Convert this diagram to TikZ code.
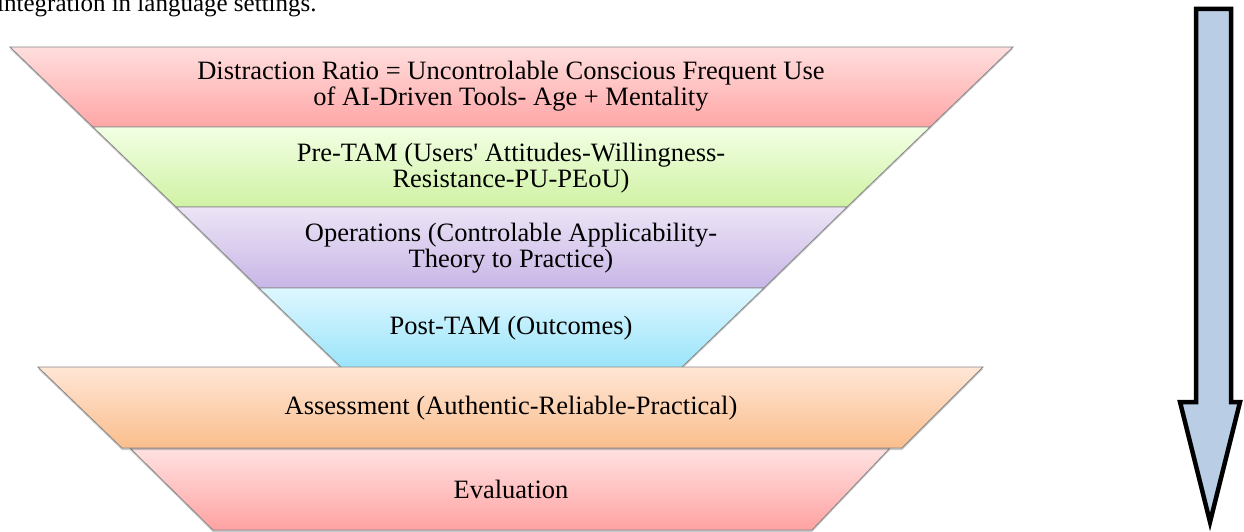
\documentclass[tikz,border=0pt]{standalone}
\usepackage{fontspec}
\setmainfont{Liberation Serif}
\usetikzlibrary{shadows}
\definecolor{pinkT}{RGB}{255,222,222}
\definecolor{pinkB}{RGB}{255,166,166}
\definecolor{greenT}{RGB}{242,255,228}
\definecolor{greenB}{RGB}{208,242,164}
\definecolor{purpT}{RGB}{236,228,246}
\definecolor{purpB}{RGB}{200,182,230}
\definecolor{blueT}{RGB}{222,247,255}
\definecolor{blueB}{RGB}{154,228,250}
\definecolor{orT}{RGB}{255,230,214}
\definecolor{orB}{RGB}{250,190,140}
\definecolor{evT}{RGB}{255,226,226}
\definecolor{evB}{RGB}{255,162,162}
\definecolor{arrowfill}{RGB}{185,205,229}
\definecolor{edge}{RGB}{135,135,135}
\tikzset{
  layer/.style={draw=edge, line width=0.8pt, line join=miter,
    drop shadow={shadow xshift=0pt, shadow yshift=-2pt, opacity=0.3, fill=black!70}},
  lbl/.style={align=center, inner sep=0pt, font=\fontsize{26.5}{26.5}\selectfont},
  bigarrow/.style={draw=black, line width=4.5pt, line join=miter, fill=arrowfill}
}
\begin{document}
\begin{tikzpicture}[x=1pt,y=-1pt]
\useasboundingbox (0,0) rectangle (1244,532);
\node[anchor=base west, inner sep=0pt, font=\fontsize{25}{25}\selectfont] (intro) at (-3,12) {integration in language settings.};
% funnel
\path[layer, top color=pinkT, bottom color=pinkB] (10,47) -- (1013,47) -- (930,127) -- (93,127) -- cycle;
\path[layer, top color=greenT, bottom color=greenB] (93,127) -- (930,127) -- (847,207) -- (176,207) -- cycle;
\path[layer, top color=purpT, bottom color=purpB] (176,207) -- (847,207) -- (764,288) -- (259,288) -- cycle;
\path[layer, top color=blueT, bottom color=blueB] (259,288) -- (764,288) -- (681,368) -- (342,368) -- cycle;
\path[layer, top color=evT, bottom color=evB] (130,448) -- (890,448) -- (812,530) -- (213,530) -- cycle;
\path[layer, top color=orT, bottom color=orB] (38,367) -- (983,367) -- (902,448) -- (122,448) -- cycle;
\node[lbl] (distraction) at (511,86) {Distraction Ratio = Uncontrolable Conscious Frequent Use\\of AI-Driven Tools- Age + Mentality};
\node[lbl] (pretam) at (511,168) {Pre-TAM (Users\textquotesingle\ Attitudes-Willingness-\\Resistance-PU-PEoU)};
\node[lbl] (operations) at (511,248) {Operations (Controlable Applicability-\\Theory to Practice)};
\node[lbl] (posttam) at (511,328) {Post-TAM (Outcomes)};
\node[lbl] (assessment) at (511,408) {Assessment (Authentic-Reliable-Practical)};
\node[lbl] (evaluation) at (511,489) {Evaluation};
% arrow
\path[bigarrow] (1196,9) -- (1231,9) -- (1231,402) -- (1240,402) -- (1210,522) -- (1180,402) -- (1196,402) -- cycle;
\end{tikzpicture}
\end{document}
